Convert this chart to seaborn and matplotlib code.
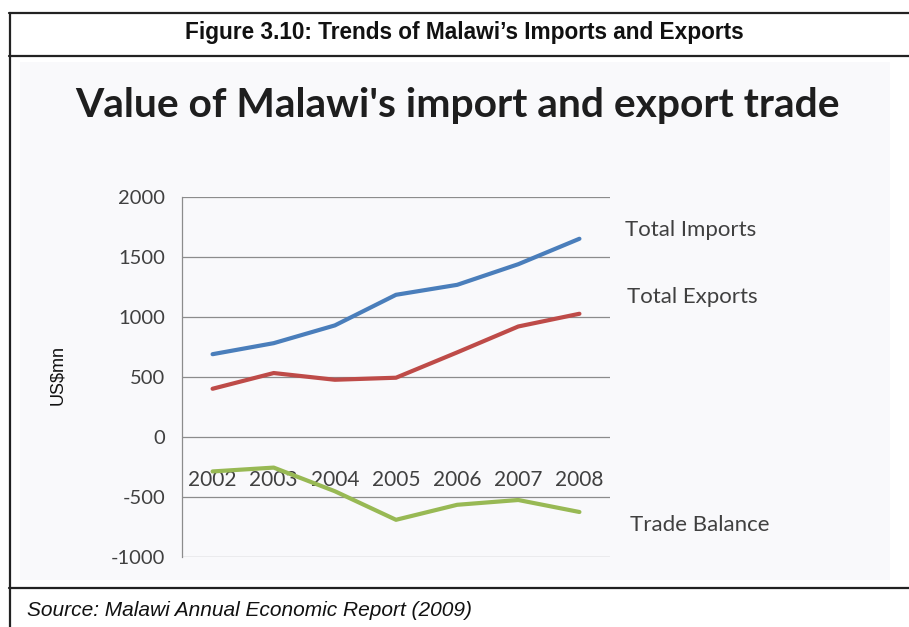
import matplotlib
matplotlib.use("Agg")
import matplotlib.pyplot as plt
from matplotlib.patches import Rectangle
from matplotlib.lines import Line2D
import seaborn as sns
import pandas as pd

# Malawi trade values, US$ million
years = ["2002", "2003", "2004", "2005", "2006", "2007", "2008"]
total_imports = [690, 782, 930, 1185, 1268, 1440, 1652]
total_exports = [402, 533, 477, 494, 705, 921, 1027]
trade_balance = [-287, -255, -452, -690, -565, -525, -625]

series_names = ["Total Imports", "Total Exports", "Trade Balance"]
series_colors = ["#4a7ebb", "#be4b48", "#98b954"]
y_ticks = [-1000, -500, 0, 500, 1000, 1500, 2000]

df = pd.DataFrame({
    "year": years * 3,
    "value": total_imports + total_exports + trade_balance,
    "series": [s for s in series_names for _ in years],
})

sns.set_theme(style="white")
plt.rcParams["font.family"] = ["Lato", "DejaVu Sans"]

W, H = 909, 627
fig = plt.figure(figsize=(W / 100, H / 100), dpi=100)
fig.patch.set_facecolor("white")

def fx(px):
    return px / W

def fy(py):
    return 1 - py / H

# faint backdrop of the embedded chart picture
fig.patches.append(Rectangle((fx(20), fy(580)), fx(870), 518 / H,
                             transform=fig.transFigure, facecolor="#f9f9fb",
                             edgecolor="none", zorder=-5))

# table frame around the figure
frame_kw = dict(transform=fig.transFigure, color="#222222", lw=1.6)
fig.lines.append(Line2D([fx(9), 1], [fy(13), fy(13)], **frame_kw))
fig.lines.append(Line2D([fx(9), 1], [fy(56), fy(56)], **frame_kw))
fig.lines.append(Line2D([fx(9), 1], [fy(588), fy(588)], **frame_kw))
fig.lines.append(Line2D([fx(9.5), fx(9.5)], [fy(13), 0], **frame_kw))

fig.text(fx(464), fy(33), "Figure 3.10: Trends of Malawi\u2019s Imports and Exports",
         ha="center", va="center", fontsize=16.3, fontweight="bold",
         family=["Liberation Sans Narrow", "Liberation Sans"], color="#111111")
fig.text(fx(27), fy(610), "Source: Malawi Annual Economic Report (2009)",
         ha="left", va="center", fontsize=15, style="italic",
         family=["Liberation Sans Narrow", "Liberation Sans"], color="#111111")

fig.text(fx(457), fy(106), "Value of Malawi's import and export trade",
         ha="center", va="center", fontsize=29.3, fontweight="bold",
         color="#1e1e1e")

fig.text(fx(58), fy(375), "US$mn", rotation=90, ha="center", va="center",
         fontsize=13, family=["Liberation Sans", "DejaVu Sans"], color="#111111")

ax = fig.add_axes([fx(182), fy(557), fx(610 - 182), (557 - 197) / H])
ax.set_facecolor("none")
ax.set_zorder(2)

sns.lineplot(data=df, x="year", y="value", hue="series",
             palette=dict(zip(series_names, series_colors)),
             linewidth=3.0, legend=False, ax=ax, zorder=3,
             solid_capstyle="round", solid_joinstyle="round")

ax.set_xlim(-0.5, len(years) - 0.5)
ax.set_ylim(-1000, 2000)
ax.set_yticks(y_ticks)
ax.set_yticklabels([str(v) for v in y_ticks])
ax.set_xlabel("")
ax.set_ylabel("")

ax.grid(axis="y", color="#8c8c8c", linewidth=0.9)
ax.grid(axis="x", visible=False)
ax.set_axisbelow(True)

for side in ["top", "right"]:
    ax.spines[side].set_visible(False)
ax.spines["left"].set_color("#8c8c8c")
ax.spines["left"].set_linewidth(0.9)
ax.spines["bottom"].set_position(("data", 0))
ax.spines["bottom"].set_visible(False)

ax.tick_params(axis="y", length=0, pad=12, labelsize=14.5, labelcolor="#404040")
ax.tick_params(axis="x", length=0, pad=24, labelsize=15, labelcolor="#404040")

# series names at the right end of each line
end_vals = [total_imports[-1], total_exports[-1], trade_balance[-1]]
offsets = [(0.745, 75), (0.78, 140), (0.83, -105)]
for name, val, (dx, dy) in zip(series_names, end_vals, offsets):
    ax.text(len(years) - 1 + dx, val + dy, name, ha="left", va="center",
            fontsize=16, color="#404040", clip_on=False)

fig.savefig("out.png", dpi=100, facecolor="white")
